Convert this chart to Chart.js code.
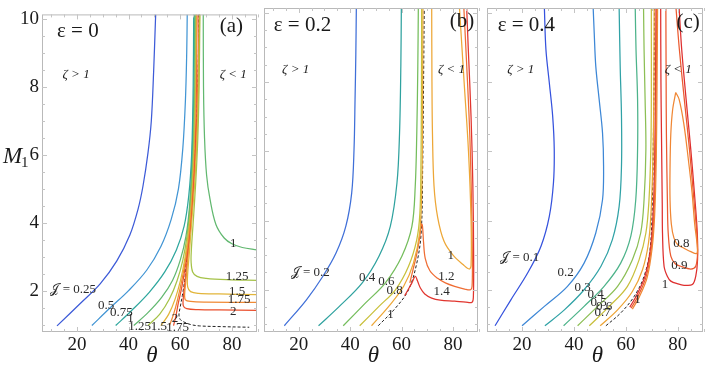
<!DOCTYPE html>
<html>
<head>
<meta charset="utf-8">
<script src="https://cdn.jsdelivr.net/npm/chart.js@4"></script>
<style>
  body { margin: 0; background: #fff; width: 717px; height: 372px; overflow: hidden; position: relative; }
  canvas { position: absolute; top: 0; }
</style>
</head>
<body>
<canvas id="pa" style="left:0px" width="260" height="372"></canvas>
<canvas id="pb" style="left:261px" width="220" height="372"></canvas>
<canvas id="pc" style="left:483px" width="222" height="372"></canvas>
<script>
// axes
const thetaTicks = [20, 40, 60, 80];
const mTicks = [2, 4, 6, 8, 10];
const thetaRange = [6.5, 89.7];
const mRange = [0.78, 10.14];

// ---- panel (a): eps = 0 ----
const a_J025 = [[12.3,0.96],[21.3,1.62],[29,2.2],[35.4,2.87],[40.5,3.64],[43.7,4.41],[45.6,5.09],[47.5,6.05],[48.8,7.0],[49.7,8.46],[50.4,9.95],[50.5,10.14]];
const a_J05  = [[25.8,0.97],[33,1.5],[40,2.0],[47,2.6],[52.5,3.3],[56.5,4.1],[59.3,5.0],[61,6.2],[62,7.6],[62.5,9],[62.7,10.14]];
const a_J075 = [[35,0.97],[41,1.4],[48,1.95],[54,2.55],[58.5,3.2],[61.5,3.9],[63.3,4.8],[64.4,6],[65,8],[65.2,10.14]];
const a_J1L  = [[42,0.97],[47.5,1.35],[52.8,1.8],[57,2.3],[60,2.9],[62.2,3.6],[63.6,4.5],[64.6,6],[65.3,8],[65.6,10.14]];
const a_J125L = [[47.5,0.97],[52,1.3],[55.8,1.75],[58.8,2.3],[61,2.9],[62.6,3.6],[63.9,4.6],[64.9,6],[65.6,8],[65.9,10.14]];
const a_J15L = [[52.5,0.97],[55.5,1.3],[58,1.75],[60.1,2.3],[61.8,2.95],[63.1,3.7],[64.3,4.8],[65.2,6.2],[65.8,8],[66.1,10.14]];
const a_J175L = [[55.8,0.97],[57.4,1.3],[59,1.75],[60.6,2.3],[62.1,2.95],[63.4,3.7],[64.5,4.8],[65.4,6.2],[66,8],[66.3,10.14]];
const a_J2L  = [[57.4,0.97],[58.3,1.25],[59.3,1.65],[60.6,2.1],[61.9,2.7],[63.2,3.4],[64.3,4.3],[65.3,5.5],[66.1,7.2],[66.5,10.14]];
const a_J1R  = [[68.9,10.14],[69,8],[69.4,6.5],[70.2,5.4],[71.5,4.7],[73.8,3.95],[77,3.55],[80,3.38],[84,3.27],[89.7,3.2]];
const a_J125R = [[67.6,10.14],[67.3,8],[66.8,6.5],[66,5.2],[65,4],[64.3,3.2],[64.2,2.85],[64.8,2.55],[66.5,2.42],[70,2.36],[78,2.32],[89.7,2.3]];
const a_J15R = [[67.5,10.14],[67.1,8],[66.5,6.5],[65.6,5.2],[64.4,4],[63.4,3],[62.8,2.4],[62.9,2.1],[64,1.97],[67,1.92],[75,1.9],[89.7,1.88]];
const a_J175R = [[67.4,10.14],[66.9,8],[66.3,6.5],[65.3,5.2],[64.1,4],[63,3],[62.2,2.3],[61.7,1.9],[62,1.73],[64,1.68],[70,1.66],[89.7,1.65]];
const a_J2R  = [[67.3,10.14],[66.8,8],[66.1,6.5],[65,5.2],[63.9,4],[62.8,3],[61.9,2.3],[61.2,1.8],[61.2,1.55],[62.5,1.47],[67,1.44],[75,1.43],[89.7,1.42]];
const a_zeta = [[67.2,10.14],[66.8,8],[66,6.5],[64.8,5.2],[63.6,3.75],[62.6,3],[61.7,2.3],[60.8,1.85],[60,1.52],[59.5,1.28],[60,1.15],[61,1.09],[64,1.0],[67.4,0.96],[75,0.94],[86.7,0.92]];
const a_labels = [[18.6,2.03,'𝒥 = 0.25'],[31.3,1.57,'0.5'],[37.2,1.34,'0.75'],[40.7,1.19,'1'],[44.3,0.93,'1.25'],[51.7,0.93,'1.5'],[59,0.9,'1.75'],[58,1.19,'2'],
                  [80.5,3.39,'1'],[82,2.4,'1.25'],[82,1.97,'1.5'],[82.8,1.74,'1.75'],[80.5,1.37,'2']];

// ---- panel (b): eps = 0.2 ----
const b_J02 = [[14.4,0.96],[23,1.71],[29.4,2.39],[34.5,3.06],[38.3,3.83],[40.6,4.8],[41.5,6.05],[41.9,7.5],[42.2,8.8],[42.4,10.14]];
const b_J04 = [[27.7,0.96],[35.8,1.52],[44.7,2.2],[51.2,2.97],[55.6,3.83],[58.2,5.09],[59.2,6.53],[59.7,8.46],[59.9,10.14]];
const b_J06 = [[37.3,0.96],[46,1.62],[53.7,2.2],[60.1,2.97],[64,3.83],[65.3,4.99],[65.9,6.53],[66.3,8.46],[66.5,10.14]];
const b_J08 = [[43.7,0.96],[51.2,1.52],[57.6,2.0],[62.7,2.68],[65.9,3.45],[67.1,4.2],[67.5,5.5],[67.7,7.5],[67.8,10.14]];
const b_J1L = [[48.3,0.96],[55,1.52],[60.8,2.1],[64.6,2.77],[67,3.64],[67.8,4.8],[68.1,6.5],[68.2,8.5],[68.3,10.14]];
const b_J1R = [[71.7,10.14],[71.8,8],[72,6.5],[72.6,5],[74,4.1],[76.5,3.4],[80,3.0],[84,2.72],[86.3,2.6],[87,2.7],[87,4],[86,6],[84.3,8],[82.5,10.14]];
const b_J12 = [[63.2,2.2],[64.5,2.6],[65.8,3.0],[67,3.5],[67.7,3.9],[68.1,3.85],[68.5,3.4],[69.2,2.9],[71,2.55],[74,2.33],[77,2.2],[80.6,2.1],[84.5,2.02],[86.8,2.0],[87.4,2.1],[87.5,3],[87.2,4.5],[86.5,6.5],[85.3,8.5],[84.2,10.14]];
const b_J14 = [[61.2,1.83],[62.5,2.0],[64,2.2],[65.3,2.39],[66.2,2.25],[67.3,2.05],[69,1.88],[71.7,1.76],[75,1.7],[80.6,1.67],[85,1.64],[87.4,1.64],[87.9,1.8],[88,3],[87.7,5],[87,7],[85.9,9],[85.3,10.14]];
const b_zeta = [[50.9,0.96],[57.6,1.47],[62.7,2.0],[65.9,2.77],[67.6,3.64],[68.2,5.57],[68.6,8.46],[68.8,10.14]];
const b_labels = [[24.5,2.5,'𝒥 = 0.2'],[46.6,2.34,'0.4'],[54.1,2.24,'0.6'],[57.3,1.98,'0.8'],[55.7,1.28,'1'],
                  [79.1,2.99,'1'],[77.4,2.39,'1.2'],[75.6,1.95,'1.4']];

// ---- panel (c): eps = 0.4 ----
const c_J01 = [[9.6,0.96],[15.7,1.71],[22.2,2.49],[27.3,3.26],[30.5,4.12],[32.1,5.09],[32.4,6.05],[31.8,7.01],[30.5,7.98],[29.2,8.94],[28.6,10.14]];
const c_J02 = [[20,0.96],[28.6,1.52],[37.5,2.1],[43.9,2.77],[48.4,3.64],[51,4.6],[51.4,5.57],[51,6.53],[49.7,7.5],[48.4,8.46],[47.8,9.42],[47.4,10.14]];
const c_J03 = [[28.8,0.96],[36.3,1.42],[43.9,2.0],[50.4,2.68],[54.8,3.45],[57.4,4.41],[58.3,5.57],[58.3,7.01],[57.8,8.46],[57.4,10.14]];
const c_J04 = [[36,0.96],[43.9,1.52],[51.6,2.1],[58,2.77],[61.9,3.55],[63.8,4.6],[64.5,6.05],[64.5,7.5],[63.9,8.94],[63.6,10.14]];
const c_J05 = [[41.4,0.96],[49.1,1.52],[56.8,2.1],[62.5,2.87],[65.7,3.64],[67,4.6],[67.7,6.05],[67.4,7.5],[67,8.94],[66.8,10.14]];
const c_J06 = [[45.9,0.96],[53.6,1.52],[60.6,2.1],[65.1,2.87],[67.7,3.64],[68.9,4.6],[69.6,6.05],[69.8,7.5],[69.8,10.14]];
const c_J07 = [[50.1,0.96],[56.8,1.42],[62.5,1.95],[66.4,2.58],[68.7,3.35],[69.8,4.41],[70.5,6.05],[70.8,8],[70.9,10.14]];
const c_J08L = [[62.5,1.44],[65.2,1.8],[68.2,2.36],[70.1,3.2],[71.1,4.2],[71.7,5.8],[72,8],[72.2,10.14]];
const c_J09L = [[62,1.47],[64.7,1.82],[67.8,2.38],[69.8,3.2],[70.8,4.2],[71.4,5.8],[71.7,8],[71.9,10.14]];
const c_J1L = [[61.5,1.5],[64.2,1.85],[67.4,2.4],[69.5,3.2],[70.5,4.2],[71.1,5.8],[71.4,8],[71.6,10.14]];
const c_J08R = [[79.2,7.7],[78,7.2],[77.3,6.5],[77,5.5],[77,4.6],[77.5,3.9],[78.5,3.5],[80,3.3],[82.4,3.2],[85,3.1],[87.3,3.05],[87.5,3.25],[86.5,3.9],[85.5,4.8],[84,5.8],[82.3,6.8],[80.5,7.5],[79.2,7.7]];
const c_J09R = [[75.4,10.14],[75.5,8],[75.6,6.53],[76,4.5],[76.3,3.64],[77.3,2.97],[79,2.75],[81.1,2.68],[85,2.6],[86.9,2.68],[87.6,3.06],[87.3,3.64],[86.2,4.6],[84.5,6.05],[82.5,7.5],[80.6,8.94],[79.3,10.14]];
const c_J1R = [[73.4,10.14],[73.5,8],[73.7,6.53],[74,4.5],[74.1,3.64],[74.7,2.68],[76,2.38],[77.3,2.25],[80,2.17],[82.4,2.13],[85.6,2.15],[86.9,2.39],[87.6,2.87],[87.5,3.64],[86.6,4.6],[85,6.05],[83.2,7.5],[81.5,8.94],[80.5,10.14]];
const c_zeta = [[52.3,0.96],[58,1.33],[63.2,1.81],[67,2.39],[69.3,3.16],[70.2,4.6],[70.6,6.53],[70.9,8.5],[71,10.14]];
const c_labels = [[19.1,2.92,'𝒥 = 0.1'],[36.8,2.5,'0.2'],[43.3,2.05,'0.3'],[48.3,1.86,'0.4'],[49.5,1.62,'0.5'],[51.6,1.52,'0.6'],[51,1.33,'0.7'],[64.5,1.71,'1'],
                  [81.4,3.33,'0.8'],[80.6,2.7,'0.9'],[75.1,2.15,'1']];

// panel texts
const epsTexts = ['ε = 0', 'ε = 0.2', 'ε = 0.4'];
const panelTags = ['(a)', '(b)', '(c)'];

// colours per curve
const aCurves = [a_J025, a_J05, a_J075, a_J1L, a_J125L, a_J15L, a_J175L, a_J2L, a_J1R, a_J125R, a_J15R, a_J175R, a_J2R];
const aColors = ['#3d5bd8','#4295d4','#2fa79e','#62b870','#a5c248','#e2b53a','#f08a35','#ea4f2d','#62b870','#a5c248','#e2b53a','#f08a35','#ea4f2d'];
const bCurves = [b_J02, b_J04, b_J06, b_J08, b_J1L, b_J1R, b_J12, b_J14];
const bColors = ['#3f6fd8','#2fa29f','#74bd5c','#c9c03b','#eda737','#eda737','#ef6d34','#e1352e'];
const cCurves = [c_J01, c_J02, c_J03, c_J04, c_J05, c_J06, c_J07, c_J08L, c_J09L, c_J1L, c_J08R, c_J09R, c_J1R];
const cColors = ['#3552dd','#3d87d6','#30a2a6','#4db38a','#8cbf55','#c8bf3c','#eda436','#f08734','#eb5a30','#de2e2e','#f08734','#eb5a30','#de2e2e'];

const serif = '"Liberation Serif", "DejaVu Serif", serif';

const decor = {
  id: 'decor',
  afterDatasetsDraw(chart, args, o) {
    const { ctx, chartArea: a, scales: { x, y } } = chart;
    ctx.save();
    // frame
    ctx.strokeStyle = '#b9b9b9';
    ctx.lineWidth = 1;
    ctx.strokeRect(a.left + 0.5, a.top + 0.5, a.right - a.left - 1, a.bottom - a.top - 1);
    // inner ticks
    ctx.strokeStyle = '#c4c4c4';
    ctx.beginPath();
    for (let t = 10; t <= 90; t += 5) {
      const px = Math.round(x.getPixelForValue(t)) + 0.5;
      const len = t % 20 === 0 ? 5 : 3;
      ctx.moveTo(px, a.bottom); ctx.lineTo(px, a.bottom - len);
      ctx.moveTo(px, a.top); ctx.lineTo(px, a.top + len);
    }
    for (let m = 1; m <= 10; m += 0.5) {
      const py = Math.round(y.getPixelForValue(m)) + 0.5;
      const len = m % 2 === 0 ? 5 : 3;
      ctx.moveTo(a.left, py); ctx.lineTo(a.left + len, py);
      ctx.moveTo(a.right, py); ctx.lineTo(a.right - len, py);
    }
    ctx.stroke();

    // contour labels
    ctx.fillStyle = '#2a2a2a';
    ctx.font = '13px ' + serif;
    ctx.textAlign = 'center';
    ctx.textBaseline = 'middle';
    o.labels.forEach(([t, m, s]) => ctx.fillText(s, x.getPixelForValue(t), y.getPixelForValue(m)));

    // epsilon + tag
    ctx.fillStyle = '#1a1a1a';
    ctx.font = '21px ' + serif;
    ctx.textAlign = 'left';
    ctx.fillText(o.eps, x.getPixelForValue(o.epsAt[0]), y.getPixelForValue(o.epsAt[1]));
    ctx.textAlign = 'center';
    ctx.fillText(o.tag, x.getPixelForValue(o.tagAt[0]), y.getPixelForValue(o.tagAt[1]));

    // zeta regions
    ctx.font = 'italic 13px ' + serif;
    ctx.fillText('ζ > 1', x.getPixelForValue(o.zetaAt[0]), y.getPixelForValue(8.36));
    ctx.fillText('ζ < 1', x.getPixelForValue(o.zetaAt[1]), y.getPixelForValue(8.36));

    // axis titles
    ctx.font = 'italic 23px ' + serif;
    ctx.fillText('θ', x.getPixelForValue(49), chart.height - 16);
    if (o.showY) {
      const py = y.getPixelForValue(5.95);
      ctx.textAlign = 'left';
      ctx.fillText('M', 3, py);
      ctx.font = '15px ' + serif;
      ctx.fillText('1', 21, py + 6);
    }
    ctx.restore();
  }
};

function makePanel(id, curves, colors, zeta, labels, idx, yWidth, padRight) {
  const datasets = curves.map((c, i) => ({
    data: c.map(p => ({ x: p[0], y: p[1] })),
    borderColor: colors[i],
    borderWidth: 1.25,
    showLine: true,
    pointRadius: 0,
    tension: 0.35,
    fill: false
  }));
  datasets.push({
    data: zeta.map(p => ({ x: p[0], y: p[1] })),
    borderColor: '#222',
    borderWidth: 1,
    borderDash: [3, 2],
    showLine: true,
    pointRadius: 0,
    tension: 0.35,
    fill: false
  });
  const showY = idx === 0;
  new Chart(document.getElementById(id), {
    type: 'scatter',
    data: { datasets },
    plugins: [decor],
    options: {
      responsive: false,
      animation: false,
      layout: { padding: { top: 8, right: padRight, left: 0, bottom: 0 } },
      plugins: {
        legend: { display: false },
        tooltip: { enabled: false },
        decor: {
          labels,
          eps: epsTexts[idx],
          tag: panelTags[idx],
          epsAt: [[12.3, 9.63], [10.3, 9.63], [10.6, 9.63]][idx],
          tagAt: [[79.8, 9.78], [83.5, 9.75], [84, 9.72]][idx],
          zetaAt: [[19.7, 80.5], [18.8, 79.4], [19.5, 80.2]][idx],
          showY
        }
      },
      scales: {
        x: {
          type: 'linear',
          min: thetaRange[0], max: thetaRange[1],
          afterBuildTicks: s => { s.ticks = thetaTicks.map(v => ({ value: v })); },
          afterFit: s => { s.height = 40; },
          grid: { display: false, drawTicks: false },
          border: { display: false },
          ticks: { color: '#1a1a1a', padding: 2, font: { family: serif, size: 19 } }
        },
        y: {
          type: 'linear',
          min: mRange[0], max: mRange[1],
          afterBuildTicks: s => { s.ticks = mTicks.map(v => ({ value: v })); },
          afterFit: s => { s.width = yWidth; },
          grid: { display: false, drawTicks: false },
          border: { display: false },
          ticks: { display: showY, color: '#1a1a1a', padding: 3, font: { family: serif, size: 19 } }
        }
      }
    }
  });
}

makePanel('pa', aCurves, aColors, a_zeta, a_labels, 0, 42, 3);
makePanel('pb', bCurves, bColors, b_zeta, b_labels, 1, 3, 3);
makePanel('pc', cCurves, cColors, c_zeta, c_labels, 2, 4, 2);
</script>
</body>
</html>
